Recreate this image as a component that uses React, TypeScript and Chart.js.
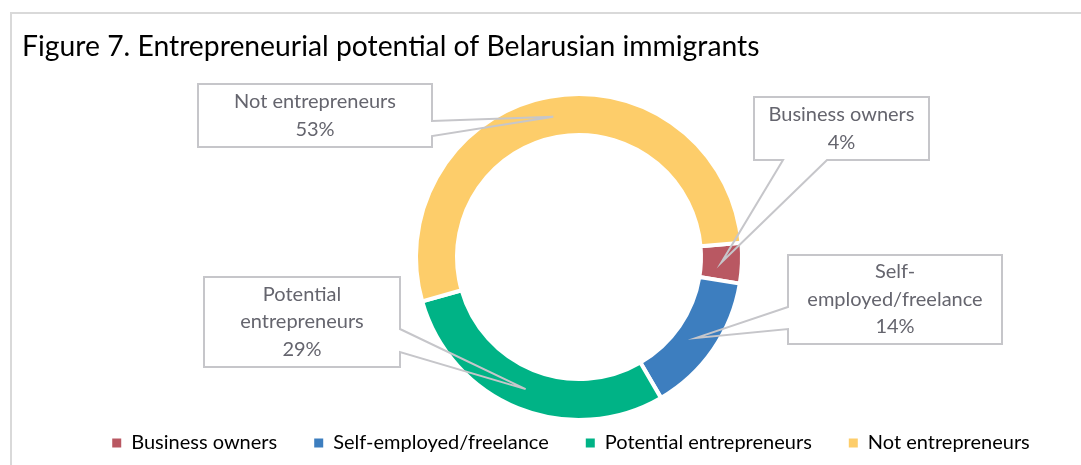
import React, { useEffect, useRef } from "react";
import { Chart, registerables } from "chart.js";

Chart.register(...registerables);

const TITLE = "Figure 7. Entrepreneurial potential of Belarusian immigrants";
const CATEGORIES = ["Business owners", "Self-employed/freelance", "Potential entrepreneurs", "Not entrepreneurs"];
const VALUES = [4, 14, 29, 53];
const LABEL_LINES = [["Business owners"], ["Self-", "employed/freelance"], ["Potential", "entrepreneurs"], ["Not entrepreneurs"]];
const COLORS = ["#B95862", "#3D7EBF", "#00B386", "#FDCD6A"];

const FONT = "Lato";

// callout box layout relative to the doughnut centre
const BOXES = [
  { dx: 175, dy: -160, w: 175, h: 63, side: "bottom", p1: 29, p2: 73 },
  { dx: 209, dy: -2, w: 214, h: 89, side: "left", p1: 52, p2: 74 },
  { dx: -375, dy: 20, w: 196, h: 90, side: "right", p1: 52, p2: 75 },
  { dx: -381, dy: -173, w: 234, h: 63, side: "right", p1: 37, p2: 52 },
];

const framePlugin = {
  id: "frame",
  afterLayout(chart: any) {
    if (chart.legend) {
      chart.legend.left -= 8;
      chart.legend.right -= 8;
    }
  },
  beforeDraw(chart: any) {
    const ctx = chart.ctx;
    ctx.save();
    ctx.fillStyle = "#ffffff";
    ctx.fillRect(0, 0, chart.width, chart.height);
    ctx.strokeStyle = "#D9D9D9";
    ctx.lineWidth = 2;
    ctx.beginPath();
    ctx.moveTo(chart.width, 13);
    ctx.lineTo(11, 13);
    ctx.lineTo(11, chart.height);
    ctx.stroke();
    ctx.fillStyle = "#000000";
    ctx.font = `28.3px ${FONT}`;
    ctx.textBaseline = "alphabetic";
    ctx.textAlign = "left";
    ctx.fillText(TITLE, 22, 56);
    ctx.restore();
  },
};

const calloutPlugin = {
  id: "callouts",
  afterDatasetsDraw(chart: any) {
    const meta = chart.getDatasetMeta(0);
    const ctx = chart.ctx;
    const cx = meta.data[0].x;
    const cy = meta.data[0].y;
    meta.data.forEach((arc: any, i: number) => {
      const tip = arc.tooltipPosition(false);
      const b = BOXES[i];
      const x = cx + b.dx;
      const y = cy + b.dy;
      const r = x + b.w;
      const btm = y + b.h;
      ctx.save();
      ctx.fillStyle = "#ffffff";
      ctx.fillRect(x, y, b.w, b.h);
      ctx.beginPath();
      if (b.side === "right") {
        ctx.moveTo(x, y);
        ctx.lineTo(r, y);
        ctx.lineTo(r, y + b.p1);
        ctx.lineTo(tip.x, tip.y);
        ctx.lineTo(r, y + b.p2);
        ctx.lineTo(r, btm);
        ctx.lineTo(x, btm);
        ctx.closePath();
      } else if (b.side === "left") {
        ctx.moveTo(x, y);
        ctx.lineTo(r, y);
        ctx.lineTo(r, btm);
        ctx.lineTo(x, btm);
        ctx.lineTo(x, y + b.p2);
        ctx.lineTo(tip.x, tip.y);
        ctx.lineTo(x, y + b.p1);
        ctx.closePath();
      } else {
        ctx.moveTo(x, y);
        ctx.lineTo(r, y);
        ctx.lineTo(r, btm);
        ctx.lineTo(x + b.p2, btm);
        ctx.lineTo(tip.x, tip.y);
        ctx.lineTo(x + b.p1, btm);
        ctx.lineTo(x, btm);
        ctx.closePath();
      }
      ctx.strokeStyle = "#C6C6CA";
      ctx.lineWidth = 2;
      ctx.lineJoin = "miter";
      ctx.stroke();
      const lines = [...LABEL_LINES[i], `${VALUES[i]}%`];
      const lh = 27.5;
      ctx.fillStyle = "#65656E";
      ctx.font = `20px ${FONT}`;
      ctx.textAlign = "center";
      ctx.textBaseline = "middle";
      const mid = y + b.h / 2;
      lines.forEach((t, k) => {
        ctx.fillText(t, x + b.w / 2, mid + (k - (lines.length - 1) / 2) * lh);
      });
      ctx.restore();
    });
  },
};

export default function App() {
  const ref = useRef<HTMLCanvasElement>(null);
  useEffect(() => {
    const chart = new Chart(ref.current!, {
      type: "doughnut",
      data: {
        labels: CATEGORIES,
        datasets: [
          {
            data: VALUES,
            backgroundColor: COLORS,
            borderColor: "#ffffff",
            borderWidth: 4,
          },
        ],
      },
      options: {
        animation: false,
        responsive: true,
        maintainAspectRatio: false,
        rotation: 85,
        radius: 163,
        cutout: "74.85%",
        layout: { padding: { left: 77, right: 0, top: 118, bottom: 2 } },
        plugins: {
          tooltip: { enabled: false },
          legend: {
            position: "bottom",
            labels: {
              font: { family: FONT, size: 20 },
              color: "#595959",
              boxWidth: 9,
              boxHeight: 9,
              padding: 37,
              generateLabels: (chart: any) =>
                CATEGORIES.map((c, i) => ({
                  text: c,
                  fillStyle: COLORS[i],
                  strokeStyle: COLORS[i],
                  lineWidth: 0,
                  hidden: false,
                  index: i,
                })),
            },
          },
        },
      },
      plugins: [framePlugin, calloutPlugin],
    });
    return () => chart.destroy();
  }, []);
  return (
    <div style={{ position: "absolute", left: 0, top: 0, width: 1081, height: 465 }}>
      <canvas ref={ref} />
    </div>
  );
}
